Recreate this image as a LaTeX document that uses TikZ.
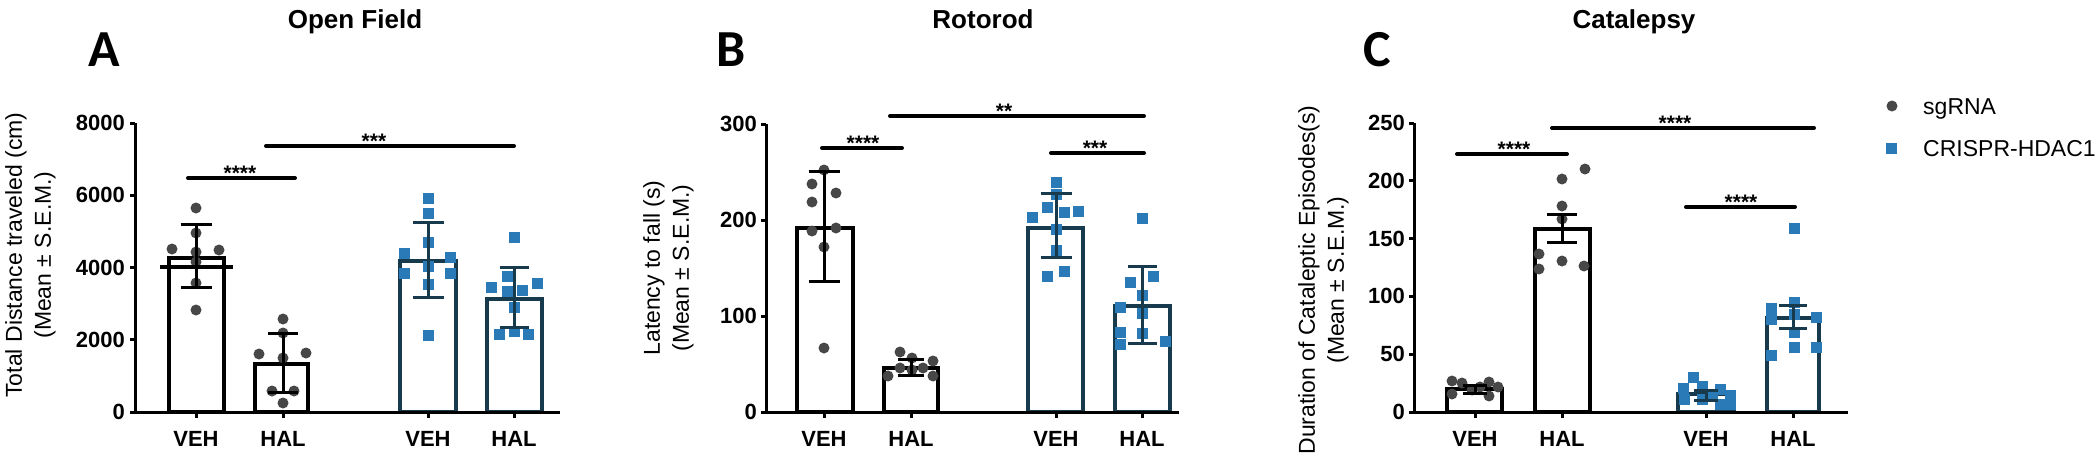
\documentclass[tikz,border=0pt]{standalone}
\usepackage{fontspec}
\setmainfont{Liberation Sans}
\newfontfamily\carlito{Carlito}
\definecolor{dotgrey}{HTML}{474747}
\definecolor{sqblue}{HTML}{2A7AB8}
\definecolor{crbar}{HTML}{173A4C}
\newcommand\mybar[4]{\filldraw[fill=white,draw=#1,line width=4pt] (#2,412) rectangle (#3,#4);}
\newcommand\mywhisk[5]{\draw[whisk,draw=#1] (#2,#3) -- (#2,#4); \draw[whisk,draw=#1] (#2-#5,#3) -- (#2+#5,#3); \draw[whisk,draw=#1] (#2-#5,#4) -- (#2+#5,#4);}
\begin{document}
\begin{tikzpicture}[x=1pt,y=-1pt,
  titlelab/.style={font=\fontsize{26}{30}\selectfont\bfseries,anchor=base,inner sep=0pt},
  panlab/.style={font=\carlito\fontsize{52}{56}\selectfont\bfseries,inner sep=0pt},
  ylab/.style={font=\fontsize{23}{27}\selectfont,rotate=90,inner sep=0pt},
  ticklab/.style={font=\fontsize{22}{26}\selectfont\bfseries,anchor=east,inner sep=0pt},
  grplab/.style={font=\fontsize{22}{26}\selectfont\bfseries,anchor=base,inner sep=0pt},
  starlab/.style={font=\fontsize{21}{24}\selectfont\bfseries,anchor=base,inner sep=0pt},
  leglab/.style={font=\fontsize{23}{27}\selectfont,anchor=base west,inner sep=0pt},
  axisline/.style={line width=3pt,black},
  whisk/.style={line width=3pt},
  sigline/.style={line width=4pt,line cap=round,black},
  gdot/.style={fill=dotgrey},
  bsq/.style={fill=sqblue}]
\useasboundingbox (0,0) rectangle (2097,463);
\fill[white] (0,0) rectangle (2097,463);

% ================= Panel A =================
\node[titlelab] (tA) at (355,28) {Open Field};
\node[panlab] (pA) at (104,50) {A};
\node[ylab] (yA1) at (16,255) {Total Distance traveled (cm)};
\node[ylab] (yA2) at (45,255) {(Mean \textpm{} S.E.M.)};
\mybar{black}{169}{224}{258}
\mybar{black}{255}{308}{364}
\mybar{crbar}{400}{456}{261}
\mybar{crbar}{487}{542}{299}
\foreach \p in {(196,208),(196,233),(172,249),(196,252),(219,250),(196,262),(196,283),(196,310),
  (283,319),(283,333),(259,354),(283,358),(306,353),(272,391),(294,391),(283,403)}
  \fill[gdot] \p circle (5.5pt);
\foreach \x/\y in {428/198,428/213,428/242,404/253,450/257,428/266,404/273,450/273,428/284,428/335,
  514/237,507/276,491/287,507/291,522/290,537/283,514/307,499/334,514/331,528/334}
  \fill[bsq] (\x-5.5,\y-5.5) rectangle (\x+5.5,\y+5.5);
\mywhisk{black}{196}{224}{287}{15.5}
\draw[line width=4pt] (160,267) -- (233,267);
\mywhisk{black}{283}{333}{392}{15}
\mywhisk{crbar}{428}{222}{297}{15.5}
\mywhisk{crbar}{514}{267}{327}{14.5}
\draw[axisline] (135,123) -- (135,412) -- (560,412);
\foreach \y in {123,195.25,267.5,339.75,412} \draw[axisline] (135,\y) -- (130,\y);
\foreach \x in {196,283,428,514} \draw[axisline] (\x,412) -- (\x,418);
\node[ticklab] (aA8) at (125,123) {8000};
\node[ticklab] (aA6) at (125,195.25) {6000};
\node[ticklab] (aA4) at (125,267.5) {4000};
\node[ticklab] (aA2) at (125,339.75) {2000};
\node[ticklab] (aA0) at (125,412) {0};
\node[grplab] (gA1) at (196,446) {VEH};
\node[grplab] (gA2) at (283,446) {HAL};
\node[grplab] (gA3) at (428,446) {VEH};
\node[grplab] (gA4) at (514,446) {HAL};
\draw[sigline] (188,178) -- (295,178);
\node[starlab] (sA1) at (240,180) {****};
\draw[sigline] (266,146) -- (514,146);
\node[starlab] (sA2) at (374,148) {***};

% ================= Panel B =================
\node[titlelab] (tB) at (983,28) {Rotorod};
\node[panlab] (pB) at (731,50) {B};
\node[ylab] (yB1) at (654,268) {Latency to fall (s)};
\node[ylab] (yB2) at (683,268) {(Mean \textpm{} S.E.M.)};
\mybar{black}{797}{853}{228}
\mybar{black}{884}{938}{368}
\mybar{crbar}{1028}{1083}{228}
\mybar{crbar}{1115}{1170}{306}
\foreach \p in {(824,170),(812,184),(836,193),(812,202),(812,231),(836,228),(824,247),(824,348),
  (900,352),(912,358),(933,361),(900,368),(923,368),(912,370),(888,376),(933,376)}
  \fill[gdot] \p circle (5.5pt);
\foreach \x/\y in {1056/182,1056/194,1047/207,1064/212,1078/211,1032/217,1056/229,1056/250,1047/276,1064/271,
  1142/218,1130/282,1153/276,1142/295,1120/307,1142/313,1120/332,1142/333,1120/344,1165/341}
  \fill[bsq] (\x-5.5,\y-5.5) rectangle (\x+5.5,\y+5.5);
\mywhisk{black}{824}{171}{281}{15.5}
\mywhisk{black}{911}{359}{375}{13}
\mywhisk{crbar}{1056}{193}{257}{15.5}
\mywhisk{crbar}{1142}{266}{343}{14.5}
\draw[axisline] (766,124) -- (766,412) -- (1179,412);
\foreach \y in {124,220,316,412} \draw[axisline] (766,\y) -- (761,\y);
\foreach \x in {824,911,1056,1142} \draw[axisline] (\x,412) -- (\x,418);
\node[ticklab] (aB3) at (757,124) {300};
\node[ticklab] (aB2) at (757,220) {200};
\node[ticklab] (aB1) at (757,316) {100};
\node[ticklab] (aB0) at (757,412) {0};
\node[grplab] (gB1) at (824,446) {VEH};
\node[grplab] (gB2) at (911,446) {HAL};
\node[grplab] (gB3) at (1056,446) {VEH};
\node[grplab] (gB4) at (1142,446) {HAL};
\draw[sigline] (822,148) -- (902,148);
\node[starlab] (sB1) at (863,150) {****};
\draw[sigline] (1051,153) -- (1144,153);
\node[starlab] (sB2) at (1095,155) {***};
\draw[sigline] (890,116) -- (1144,116);
\node[starlab] (sB3) at (1004,118) {**};

% ================= Panel C =================
\node[titlelab] (tC) at (1634,28) {Catalepsy};
\node[panlab] (pC) at (1377,50) {C};
\node[ylab] (yC1) at (1309,280) {Duration of Cataleptic Episodes(s)};
\node[ylab] (yC2) at (1338,280) {(Mean \textpm{} S.E.M.)};
\mybar{black}{1447}{1502}{389}
\mybar{black}{1535}{1590}{229}
\mybar{crbar}{1678}{1734}{394}
\mybar{crbar}{1767}{1819}{318}
\foreach \p in {(1452,381),(1462,383),(1472,390),(1480,387),(1489,382),(1498,387),(1452,394),(1489,396),
  (1562,179),(1585,169),(1562,206),(1562,219),(1539,254),(1562,261),(1539,269),(1584,266)}
  \fill[gdot] \p circle (5.5pt);
\foreach \x/\y in {1693/377,1683/388,1702/386,1720/389,1730/395,1684/399,1702/399,1712/394,1720/404,1730/404,
  1794/228,1771/308,1794/302,1816/317,1771/319,1794/314,1794/332,1794/347,1816/347,1771/355}
  \fill[bsq] (\x-5.5,\y-5.5) rectangle (\x+5.5,\y+5.5);
\mywhisk{black}{1475}{385}{393}{12}
\mywhisk{black}{1562}{214}{242}{15}
\mywhisk{crbar}{1706}{390}{400}{12}
\mywhisk{crbar}{1793}{305}{328}{14}
\draw[axisline] (1414,123) -- (1414,412) -- (1848,412);
\foreach \y in {123,180.8,238.6,296.4,354.2,412} \draw[axisline] (1414,\y) -- (1409,\y);
\foreach \x in {1475,1562,1706,1793} \draw[axisline] (\x,412) -- (\x,418);
\node[ticklab] (aC5) at (1405,123) {250};
\node[ticklab] (aC4) at (1405,180.8) {200};
\node[ticklab] (aC3) at (1405,238.6) {150};
\node[ticklab] (aC2) at (1405,296.4) {100};
\node[ticklab] (aC1) at (1405,354.2) {50};
\node[ticklab] (aC0) at (1405,412) {0};
\node[grplab] (gC1) at (1475,446) {VEH};
\node[grplab] (gC2) at (1562,446) {HAL};
\node[grplab] (gC3) at (1706,446) {VEH};
\node[grplab] (gC4) at (1793,446) {HAL};
\draw[sigline] (1457,154) -- (1567,154);
\node[starlab] (sC1) at (1514,156) {****};
\draw[sigline] (1552,128) -- (1814,128);
\node[starlab] (sC2) at (1675,130) {****};
\draw[sigline] (1686,207) -- (1795,207);
\node[starlab] (sC3) at (1741,209) {****};

% ================= Legend =================
\fill[gdot] (1892,106) circle (5.5pt);
\fill[bsq] (1886,143) rectangle (1897,154);
\node[leglab] (lg1) at (1923,114) {sgRNA};
\node[leglab] (lg2) at (1923,156) {CRISPR-HDAC1};
\end{tikzpicture}
\end{document}
